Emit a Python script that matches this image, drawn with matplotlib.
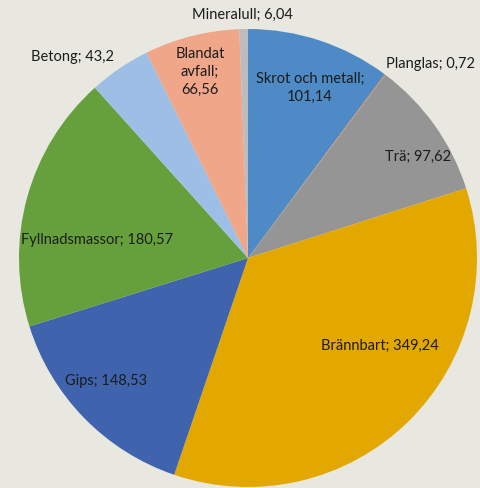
import matplotlib.pyplot as plt

# Avfallsmängder per fraktion
categories = ["Skrot och metall", "Planglas", "Trä", "Brännbart", "Gips",
              "Fyllnadsmassor", "Betong", "Blandat avfall", "Mineralull"]
values = [101.14, 0.72, 97.62, 349.24, 148.53, 180.57, 43.2, 66.56, 6.04]
label_texts = ["Skrot och metall;\n101,14", "Planglas; 0,72", "Trä; 97,62",
               "Brännbart; 349,24", "Gips; 148,53", "Fyllnadsmassor; 180,57",
               "Betong; 43,2", "Blandat\navfall;\n66,56", "Mineralull; 6,04"]

colors = ["#4d8ac6", "#c9834c", "#959595", "#e3a800", "#3f63ad",
          "#65a03d", "#9ebfe5", "#f0a688", "#bcbcbf"]

# label positions in pixels (x, y from top)
label_px = [(310, 88), (430, 64), (418, 157), (380, 346), (106, 381),
            (97, 240), (72, 57), (200, 72), (242, 15)]

W, H = 480, 488
cx, cy, R = 248, 258, 229

bg = "#e8e8e1"
fig = plt.figure(figsize=(W / 100, H / 100), dpi=100, facecolor=bg)
ax = fig.add_axes([0, 0, 1, 1])
ax.set_facecolor(bg)

ax.pie(values, colors=colors, startangle=90, counterclock=False,
       radius=1, wedgeprops=dict(linewidth=0))

ax.set_xlim(-cx / R, (W - cx) / R)
ax.set_ylim(-(H - cy) / R, cy / R)
ax.set_aspect("auto")
ax.axis("off")

def px(x, y):
    return (x - cx) / R, (cy - y) / R

for txt, (x, y) in zip(label_texts, label_px):
    lx, ly = px(x, y)
    ax.text(lx, ly, txt, ha="center", va="center", fontsize=10.5,
            family="Lato", color="#1c1c1c", linespacing=1.35)

fig.savefig("out.png", dpi=100, facecolor=bg)
